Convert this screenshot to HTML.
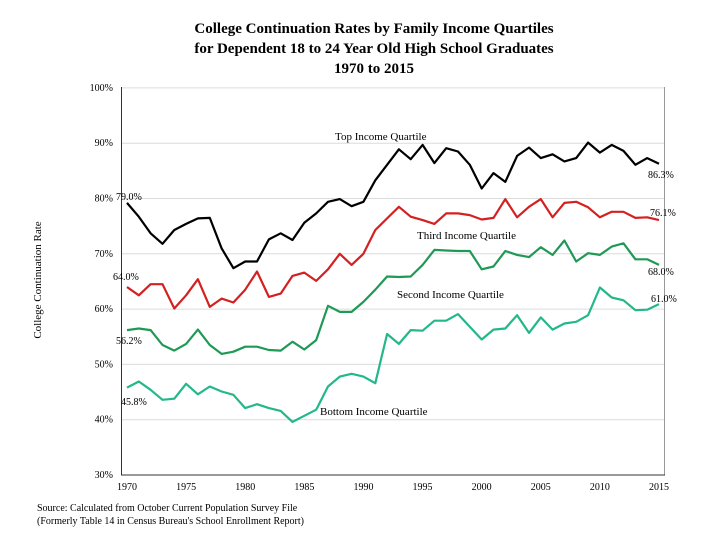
<!DOCTYPE html>
<html><head><meta charset="utf-8"><style>
html,body{margin:0;padding:0;background:#fff;}
svg{display:block;font-family:"Liberation Serif",serif;}
</style></head><body>
<svg id="chart" width="720" height="540" viewBox="0 0 720 540">
<g font-weight="bold" font-size="15" text-anchor="middle" fill="#000">
<text x="374" y="33">College Continuation Rates by Family Income Quartiles</text>
<text x="374" y="53">for Dependent 18 to 24 Year Old High School Graduates</text>
<text x="374" y="73">1970 to 2015</text>
</g>
<g id="grid"></g>
<g id="yticks" font-size="10" text-anchor="end"></g>
<g id="xticks" font-size="10" text-anchor="middle"></g>
<line x1="121.5" y1="87" x2="121.5" y2="475" stroke="#333" stroke-width="1"/>
<line x1="664.5" y1="87" x2="664.5" y2="475" stroke="#999" stroke-width="1"/>
<line x1="121" y1="475" x2="665" y2="475" stroke="#333" stroke-width="1"/>
<text font-size="11" text-anchor="middle" transform="translate(41,280) rotate(-90)">College Continuation Rate</text>
<g id="series"></g>
<g font-size="11">
<text x="335" y="140">Top Income Quartile</text>
<text x="417" y="239">Third Income Quartile</text>
<text x="397" y="298">Second Income Quartile</text>
<text x="320" y="415">Bottom Income Quartile</text>
</g>
<g font-size="10">
<text x="116" y="200">79.0%</text>
<text x="113" y="280">64.0%</text>
<text x="116" y="344">56.2%</text>
<text x="121" y="405">45.8%</text>
<text x="648" y="178">86.3%</text>
<text x="650" y="216">76.1%</text>
<text x="648" y="275">68.0%</text>
<text x="651" y="302">61.0%</text>
</g>
<g font-size="10">
<text x="37" y="511">Source: Calculated from October Current Population Survey File</text>
<text x="37" y="524">(Formerly Table 14 in Census Bureau's School Enrollment Report)</text>
</g>
</svg>
<script>
const years = [];
for (let y = 1970; y <= 2015; y++) years.push(y);
const xTicks = [1970,1975,1980,1985,1990,1995,2000,2005,2010,2015];
const yTicks = [30,40,50,60,70,80,90,100];
const topQ = [79.2,76.7,73.7,71.8,74.3,75.4,76.4,76.5,71.0,67.4,68.6,68.6,72.6,73.7,72.5,75.6,77.3,79.4,79.9,78.6,79.4,83.3,86.1,88.9,87.1,89.7,86.4,89.1,88.5,86.1,81.8,84.6,83.0,87.7,89.2,87.3,88.0,86.7,87.3,90.1,88.3,89.7,88.6,86.1,87.3,86.3];
const thirdQ = [64.0,62.5,64.5,64.5,60.1,62.5,65.4,60.4,61.9,61.2,63.5,66.8,62.2,62.8,66.0,66.6,65.1,67.2,70.0,68.0,70.0,74.3,76.4,78.5,76.7,76.1,75.4,77.3,77.3,77.0,76.2,76.5,79.9,76.6,78.5,79.9,76.6,79.2,79.4,78.4,76.6,77.6,77.6,76.5,76.6,76.1];
const secondQ = [56.2,56.5,56.2,53.5,52.5,53.7,56.3,53.5,51.9,52.3,53.2,53.2,52.6,52.5,54.1,52.7,54.4,60.6,59.5,59.5,61.3,63.5,65.9,65.8,65.9,68.0,70.7,70.6,70.5,70.5,67.2,67.7,70.5,69.8,69.4,71.2,69.8,72.4,68.6,70.1,69.8,71.3,71.9,69.0,69.0,68.0];
const bottomQ = [45.8,46.9,45.4,43.6,43.8,46.5,44.6,46.0,45.1,44.5,42.1,42.8,42.1,41.6,39.6,40.7,41.8,46.0,47.8,48.3,47.8,46.6,55.5,53.7,56.2,56.1,57.9,57.9,59.1,56.8,54.5,56.3,56.5,58.9,55.7,58.5,56.3,57.4,57.7,58.9,63.9,62.1,61.6,59.8,59.9,60.9];

const NS = "http://www.w3.org/2000/svg";
function xS(yr){ return 127 + (yr - 1970) * (532 / 45); }
function yS(v){ return 475 - (v - 30) * 5.53; }

const grid = document.getElementById('grid');
const yt = document.getElementById('yticks');
yTicks.forEach(t => {
  if (t > 30) {
    const l = document.createElementNS(NS, 'line');
    
    
    l.setAttribute('x1', 121); l.setAttribute('x2', 664);
    l.setAttribute('y1', yS(t)); l.setAttribute('y2', yS(t));
    l.setAttribute('stroke', '#dcdcdc'); l.setAttribute('stroke-width', '1');
    grid.appendChild(l);
  }
  const tx = document.createElementNS(NS, 'text');
  
  
  tx.setAttribute('x', 113); tx.setAttribute('y', yS(t) + 3);
  tx.textContent = t + '%';
  yt.appendChild(tx);
});
const xt = document.getElementById('xticks');
xTicks.forEach(t => {
  const tx = document.createElementNS(NS, 'text');
  
  
  tx.setAttribute('x', xS(t)); tx.setAttribute('y', 490);
  tx.textContent = t;
  xt.appendChild(tx);
});
const seriesG = document.getElementById('series');
function drawLine(vals, color, name){
  const p = document.createElementNS(NS, 'polyline');
  
  
  p.setAttribute('points', vals.map((v,i) => xS(years[i]).toFixed(1) + ',' + yS(v).toFixed(1)).join(' '));
  p.setAttribute('fill', 'none');
  p.setAttribute('stroke', color);
  p.setAttribute('stroke-width', '2.2');
  p.setAttribute('stroke-linejoin', 'round');
  seriesG.appendChild(p);
}
drawLine(topQ, '#000000', 'top-quartile-line');
drawLine(thirdQ, '#d42020', 'third-quartile-line');
drawLine(secondQ, '#1f9955', 'second-quartile-line');
drawLine(bottomQ, '#22b88a', 'bottom-quartile-line');
</script>
</body></html>
